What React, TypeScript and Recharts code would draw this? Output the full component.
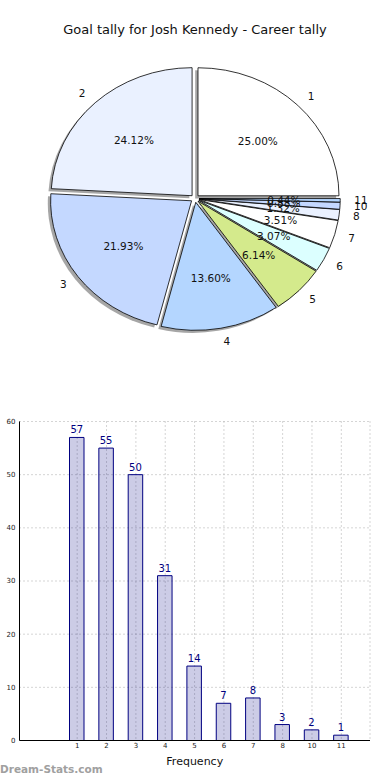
import React from "react";
import {
  PieChart,
  Pie,
  Sector,
  BarChart,
  Bar,
  XAxis,
  YAxis,
  CartesianGrid,
  LabelList,
  Label,
} from "recharts";

const categories = ["1", "2", "3", "4", "5", "6", "7", "8", "10", "11"];
const goals = [57, 55, 50, 31, 14, 7, 8, 3, 2, 1];
const sliceColors = [
  "#ffffff",
  "#eaf1ff",
  "#c4d8ff",
  "#b4d6ff",
  "#d4ea8c",
  "#dcffff",
  "#ffffff",
  "#eaf1ff",
  "#c4d8ff",
  "#b4d6ff",
];
const yTicks = [0, 10, 20, 30, 40, 50, 60];

const tally = categories.map((name, i) => ({ name, value: goals[i] }));

// pie geometry (matplotlib pie drawn without equal aspect -> ellipse)
const CX = 195;
const CY = 198.5;
const R = 141;
const K = 0.908; // vertical squash
const EXPLODE = 0.03;
const RAD = Math.PI / 180;
const FONT = "DejaVu Sans, sans-serif";

const squash = `translate(0 ${CY}) scale(1 ${K}) translate(0 ${-CY})`;

function ShadowWedge(p: any) {
  const e = R * EXPLODE;
  const c = Math.cos(p.midAngle * RAD);
  const s = Math.sin(p.midAngle * RAD);
  return (
    <g transform="translate(-2.8 2.6)">
      <g transform={squash}>
        <Sector
          cx={CX + e * c}
          cy={CY - e * s}
          innerRadius={0}
          outerRadius={R}
          startAngle={p.startAngle}
          endAngle={p.endAngle}
          fill="#4d4d4d"
          fillOpacity={0.5}
          stroke="none"
        />
      </g>
    </g>
  );
}

function Wedge(p: any) {
  const e = R * EXPLODE;
  const c = Math.cos(p.midAngle * RAD);
  const s = Math.sin(p.midAngle * RAD);
  const pctR = e + 0.6 * R;
  const labR = e + 1.1 * R;
  return (
    <g>
      <g transform={squash}>
        <Sector
          cx={CX + e * c}
          cy={CY - e * s}
          innerRadius={0}
          outerRadius={R}
          startAngle={p.startAngle}
          endAngle={p.endAngle}
          fill={sliceColors[p.index]}
          stroke="#000"
          strokeWidth={0.8}
          vectorEffect="non-scaling-stroke"
        />
      </g>
      <text
        x={CX + pctR * c}
        y={CY - K * pctR * s}
        textAnchor="middle"
        dominantBaseline="central"
        fontSize={10.5}
        fontFamily={FONT}
        fill="#111"
      >
        {(p.percent * 100).toFixed(2) + "%"}
      </text>
      <text
        x={CX + labR * c}
        y={CY - K * labR * s}
        textAnchor={c >= 0 ? "start" : "end"}
        dominantBaseline="central"
        fontSize={10.5}
        fontFamily={FONT}
        fill="#111"
      >
        {categories[p.index]}
      </text>
    </g>
  );
}

export default function App() {
  return (
    <div style={{ position: "relative", width: 390, height: 780, background: "#fff", fontFamily: FONT }}>
      <style>{`body{margin:0}`}</style>
      <div
        style={{
          position: "absolute",
          left: 0,
          top: 22,
          width: 390,
          textAlign: "center",
          fontSize: 13,
          lineHeight: "16px",
          color: "#111",
        }}
      >
        Goal tally for Josh Kennedy - Career tally
      </div>

      <div style={{ position: "absolute", left: 0, top: 0 }}>
        <PieChart width={390} height={400}>
          <Pie
            data={tally}
            dataKey="value"
            cx={CX}
            cy={CY}
            outerRadius={R}
            fill="none"
            stroke="none"
            label={ShadowWedge}
            labelLine={false}
            isAnimationActive={false}
          />
          <Pie
            data={tally}
            dataKey="value"
            cx={CX}
            cy={CY}
            outerRadius={R}
            fill="none"
            stroke="none"
            label={Wedge}
            labelLine={false}
            isAnimationActive={false}
          />
        </PieChart>
      </div>

      <div style={{ position: "absolute", left: 0, top: 410 }}>
        <BarChart
          width={390}
          height={370}
          data={tally}
          margin={{ top: 11.5, right: 20, bottom: 15.5, left: 3.5 }}
        >
          <CartesianGrid strokeDasharray="1 3" stroke="#aaaaaa" />
          <XAxis
            dataKey="name"
            interval={0}
            padding={{ left: 43, right: 14 }}
            tickLine={false}
            tickSize={0}
            tickMargin={3}
            height={24}
            axisLine={{ stroke: "#000" }}
            tick={{ fontSize: 7, fill: "#222", fontFamily: FONT }}
          >
            <Label
              value="Frequency"
              position="insideBottom"
              offset={0}
              style={{ fontSize: 11, fill: "#111", fontFamily: FONT }}
            />
          </XAxis>
          <XAxis
            xAxisId="top"
            orientation="top"
            dataKey="name"
            tick={false}
            tickLine={false}
            height={0}
            axisLine={{ stroke: "#000" }}
          />
          <YAxis
            domain={[0, 60]}
            ticks={yTicks}
            interval={0}
            width={16}
            tickLine={false}
            tickSize={0}
            tickMargin={4}
            axisLine={{ stroke: "#000" }}
            tick={{ fontSize: 7, fill: "#222", fontFamily: FONT }}
          />
          <YAxis
            yAxisId="right"
            orientation="right"
            domain={[0, 60]}
            tick={false}
            tickLine={false}
            width={0}
            axisLine={{ stroke: "#000" }}
          />
          <Bar
            dataKey="value"
            fill="#000080"
            fillOpacity={0.2}
            stroke="#000080"
            strokeWidth={1}
            barSize={14.5}
            isAnimationActive={false}
          >
            <LabelList
              dataKey="value"
              position="top"
              offset={4}
              style={{ fontSize: 10, fill: "#000080", fontFamily: FONT }}
            />
          </Bar>
        </BarChart>
      </div>

      <div
        style={{
          position: "absolute",
          left: 0,
          top: 762,
          fontSize: 10.5,
          fontWeight: "bold",
          color: "#a0a0a0",
          lineHeight: "14px",
        }}
      >
        Dream-Stats.com
      </div>
    </div>
  );
}
